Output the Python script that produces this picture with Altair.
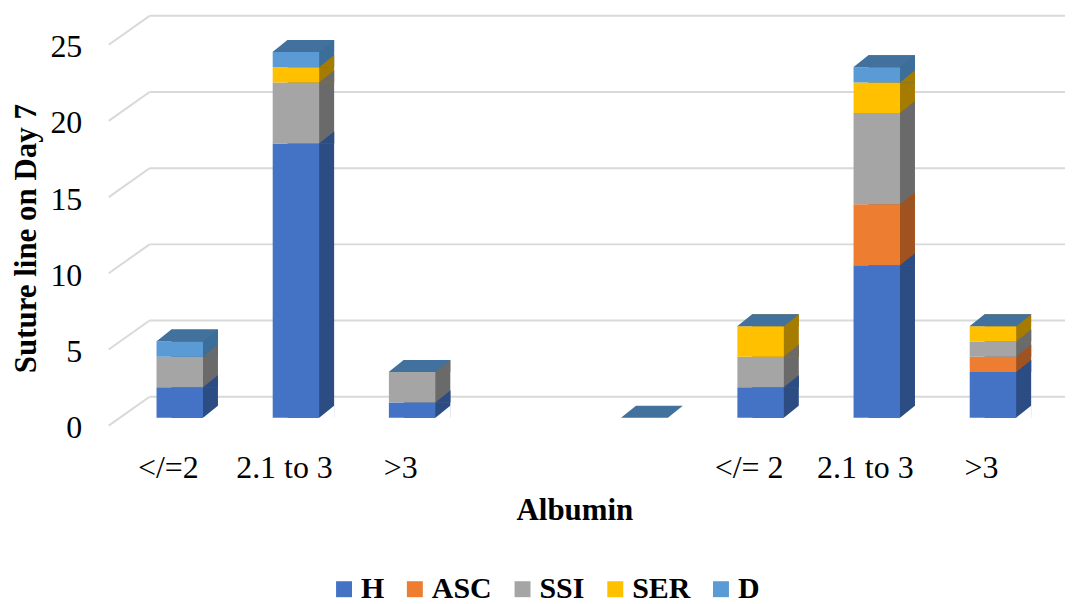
import json
import altair as alt
import pandas as pd

# ---- data ----
cat_labels = ["</=2", "2.1 to 3", ">3", "", "", "</= 2", "2.1 to 3", ">3"]
series = ["H", "ASC", "SSI", "SER", "D"]
H   = [2, 18, 1, None, 0, 2, 10, 3]
ASC = [0, 0, 0, None, 0, 0, 4, 1]
SSI = [2, 4, 2, None, 0, 2, 6, 1]
SER = [0, 1, 0, None, 0, 2, 2, 1]
D   = [1, 1, 0, None, 0, 0, 1, 0]
y_ticks = [0, 5, 10, 15, 20, 25]

front_colors = ["#4472C4", "#ED7D31", "#A5A5A5", "#FFC000", "#5B9BD5"]
side_colors = ["#2C4C84", "#A0531F", "#6A6A6A", "#A67C00", "#3C6E9A"]
top_color = "#41719C"
grid_color = "#D9D9D9"
FONT = "Liberation Serif"

# ---- build tables ----
vals = {"H": H, "ASC": ASC, "SSI": SSI, "SER": SER, "D": D}
rows = []
totals = []
for i in range(len(cat_labels)):
    if H[i] is None:
        continue
    base = 0
    for k, s in enumerate(series):
        v = vals[s][i]
        rows.append({"cat": i, "series": s, "order": k, "value": v,
                     "y0": base, "y1": base + v})
        base += v
    totals.append({"cat": i, "total": base, "zero": 0})
df = pd.DataFrame(rows)
df_tot = pd.DataFrame(totals)
df_grid = pd.DataFrame({"v": y_ticks})

label_expr = json.dumps(cat_labels) + "[datum.value]"

yscale = alt.Scale(domain=[0, 25], nice=False, zero=True)
xscale = alt.Scale(domain=list(range(len(cat_labels))), range=[14, 946],
                   paddingInner=0.6, paddingOuter=0.3)

x_enc = alt.X("cat:O", scale=xscale,
              axis=alt.Axis(labelExpr=label_expr, labelAngle=0, ticks=False,
                            domain=False, grid=False, labelFont=FONT,
                            labelFontSize=32, labelColor="black",
                            labelPadding=35, labelOffset=-11.5,
                            title="Albumin", titleFont=FONT, titleFontSize=31,
                            titleFontWeight="bold", titleColor="black",
                            titleX=468, titleY=102, titleBaseline="alphabetic",
                            titleAnchor="start", titleAlign="center"))

y_axis = alt.Axis(values=y_ticks, grid=False, ticks=False, domain=False,
                  labelFont=FONT, labelFontSize=32, labelColor="black",
                  labelPadding=26, labelOffset=10,
                  title="Suture line on Day 7", titleFont=FONT,
                  titleFontSize=31, titleFontWeight="bold", titleColor="black",
                  titleX=-81, titleY=202, titleAlign="center",
                  titleBaseline="middle", titleAngle=-90)

side_keys = [s + "_side" for s in series]
side_fill = alt.Fill("sside:N", scale=alt.Scale(domain=side_keys, range=side_colors),
                     legend=None)

# back-wall grid lines
grid = alt.Chart(df_grid).mark_rule(color=grid_color, strokeWidth=2, yOffset=-21).encode(
    y=alt.Y("v:Q", scale=yscale, axis=y_axis),
    x=alt.value(42), x2=alt.value(975),
)
# side-wall diagonal grid lines
diag = alt.Chart(df_grid).mark_rule(color=grid_color, strokeWidth=2,
                                    yOffset=8, y2Offset=-21).encode(
    y=alt.Y("v:Q", scale=yscale), y2="v:Q",
    x=alt.value(1), x2=alt.value(42),
)

# side faces (offset, darker)
side = alt.Chart(df).transform_filter("datum.value > 0").transform_calculate(
    sside="datum.series + '_side'").mark_bar(xOffset=15, yOffset=-12, y2Offset=0).encode(
    x=x_enc,
    y=alt.Y("y1:Q", scale=yscale), y2="y0:Q",
    fill=side_fill,
    order=alt.Order("order:Q"),
)

# diagonal boundaries between side segments
tri_shape = "M -1 0.8 L 1 -0.8 L 1 0.8 Z"
side_tri = alt.Chart(df).transform_filter("datum.value > 0").transform_calculate(
    sside="datum.series + '_side'").mark_point(shape=tri_shape, size=225, filled=True,
                                     opacity=1, strokeWidth=0,
                                     xOffset=30.8, yOffset=-6).encode(
    x=x_enc,
    y=alt.Y("y1:Q", scale=yscale),
    fill=side_fill,
)

# white cut at the bottom of each side face
bottom_cut = alt.Chart(df_tot).mark_point(shape=tri_shape, size=240, filled=True,
                                          opacity=1, strokeWidth=0, color="white",
                                          xOffset=30.8, yOffset=-6).encode(
    x=x_enc,
    y=alt.Y("zero:Q", scale=yscale),
)

# front faces
front = alt.Chart(df).mark_bar().encode(
    x=x_enc,
    y=alt.Y("y1:Q", scale=yscale), y2="y0:Q",
    color=alt.Color("series:N", sort=series,
                    scale=alt.Scale(domain=series, range=front_colors),
                    legend=alt.Legend(orient="none", direction="horizontal",
                                      legendX=222, legendY=539, title=None,
                                      symbolType="square", symbolSize=256,
                                      symbolStrokeWidth=0, labelFont=FONT,
                                      labelFontSize=30, labelFontWeight="bold",
                                      labelColor="black", labelOffset=2,
                                      columnPadding=15, padding=0)),
    order=alt.Order("order:Q"),
)

# top faces (parallelogram)
top_shape = "M -1 0.194 L 0.516 0.194 L 1 -0.194 L -0.516 -0.194 Z"
top = alt.Chart(df_tot).mark_point(shape=top_shape, size=3844, filled=True,
                                   opacity=1, color=top_color, strokeWidth=0,
                                   xOffset=7.5, yOffset=-6).encode(
    x=x_enc,
    y=alt.Y("total:Q", scale=yscale),
)

chart = alt.layer(grid, diag, side, side_tri, bottom_cut, front, top).properties(
    width=960, height=382,
    autosize=alt.AutoSizeParams(type="none"),
    padding={"left": 100, "top": 28, "right": 0, "bottom": 186},
).configure(font=FONT).configure_view(stroke=None)

chart.save("out.html", embed_options={"renderer": "svg", "actions": False})
